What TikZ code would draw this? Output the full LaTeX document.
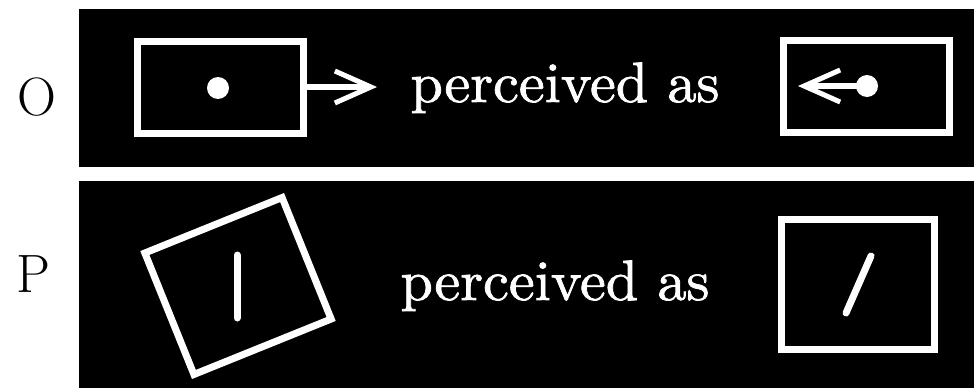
\documentclass[tikz,border=0pt]{standalone}
\usepackage{fontspec}
\newfontfamily\thickserif{lmroman10-regular}[Extension=.otf, FakeBold=1.3]
\usepackage{tikz}
\usetikzlibrary{arrows.meta, positioning}

\begin{document}
\begin{tikzpicture}[
  x=1pt, y=-1pt,
  panel/.style={fill=black},
  frame/.style={draw=white, line width=7pt, fill=black, inner sep=0pt, minimum width=166pt, minimum height=92pt},
  sqframe/.style={frame, minimum width=148pt, minimum height=131pt},
  dot/.style={circle, fill=white, inner sep=0pt, minimum size=22pt},
  warrow/.style={draw=white, line width=6pt, -{Straight Barb[length=36pt, width=32pt, line width=5pt]}},
  bar/.style={draw=white, line width=7pt, line cap=round},
  phrase/.style={text=white, inner sep=0pt, anchor=base, xscale=1.02, font=\thickserif\fontsize{57}{60}\selectfont},
  rowlabel/.style={inner sep=0pt, anchor=base, font=\fontsize{54}{60}\selectfont},
]
  \useasboundingbox (0,0) rectangle (974,388);
  \fill[panel] (79,9) rectangle (974,167);
  \fill[panel] (79,181) rectangle (974,388);

  % row O
  \node[rowlabel] (labO) at (37,115) {O};
  \node[frame] (boxO) at (220,87) {};
  \node[dot] (dotO) at (218,88) {};
  \coordinate (tipO) at (377,87);
  \draw[warrow] (boxO.east) -- (tipO);
  \node[phrase] (txtO) at (565,102) {perceived as};
  \node[frame] (seenO) at (866,86) {};
  \node[dot] (dotS) at (867,86) {};
  \coordinate (tipS) at (798,86);
  \draw[warrow] (dotS.center) -- (tipS);

  % row P
  \node[rowlabel] (labP) at (33,292) {P};
  \node[sqframe, rotate=22] (boxP) at (238,286) {};
  \draw[bar] (237,255) -- (237,318);
  \node[phrase] (txtP) at (555,300) {perceived as};
  \node[sqframe, minimum width=153pt, minimum height=130pt] (seenP) at (858,284) {};
  \draw[bar] (846,313) -- (871,256);
\end{tikzpicture}
\end{document}
